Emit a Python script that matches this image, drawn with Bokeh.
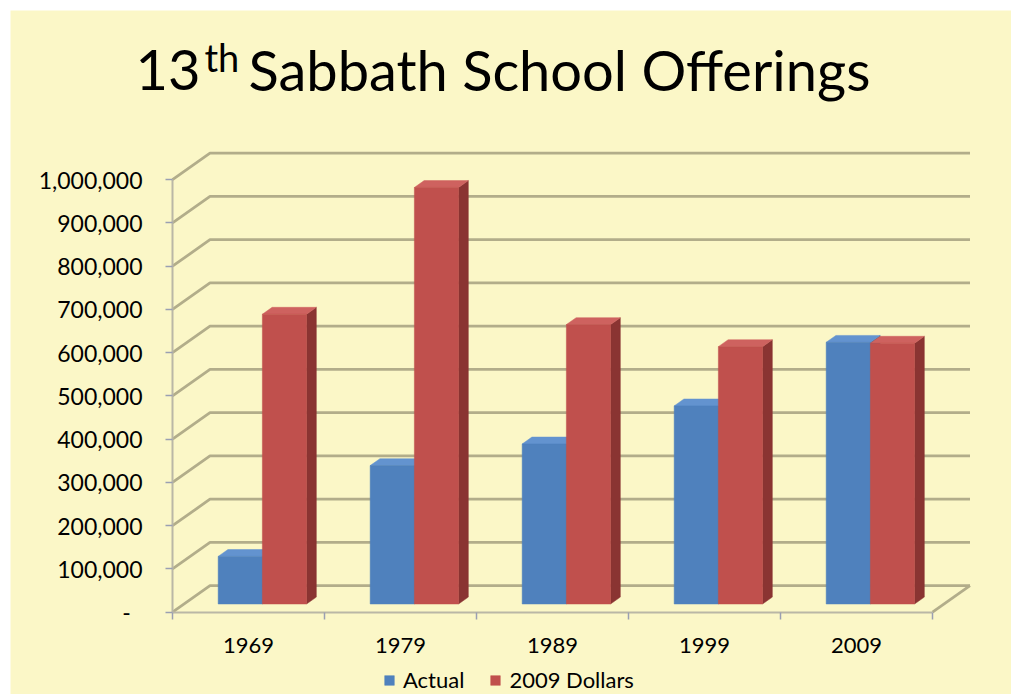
from bokeh.plotting import figure
from bokeh.models import (Range1d, FixedTicker, CustomJSTickFormatter, Legend,
                          LegendItem, Label, LinearAxis)
from bokeh.embed import file_html
from bokeh.resources import INLINE

# ---------------- data ----------------
years = ["1969", "1979", "1989", "1999", "2009"]
series_names = ["Actual", "2009 Dollars"]
actual = [110000, 320000, 370000, 458000, 605000]
dollars_2009 = [670000, 963000, 646000, 595000, 603000]
y_ticks = [0, 100000, 200000, 300000, 400000, 500000, 600000, 700000, 800000, 900000, 1000000]

# ---------------- style ----------------
BG = "#FBF7C7"
FONT = "Lato"
GRID_COL = "#B2AD8A"
AXIS_COL = "#BAB7A6"
TICK_COL = "#9A9FB2"
BLUE = ("#4F81BD", "#3A6393", "#6393CF")    # front, side, top
RED = ("#C0504D", "#8A3432", "#CE625F")

ORIG = 10                                    # page offset of the figure
W_FIG, H_FIG = 1011 - ORIG, 694 - ORIG
X0_PAGE, Y0_PAGE = 172.0, 611.7              # page pixel of the chart origin
PX_X = 152.0                                 # px per category
PX_Y = 432.5 / 1e6                           # px per unit value
DX = 37.5 / PX_X                             # depth shear in x (data units)
DY = 26.5 / PX_Y                             # depth shear in y (data units)
F0, F1 = 0.31, 0.57                          # bar depth span (fraction of depth)
BAR_W = 44.2 / PX_X
BAR_OFF = 0.224
n = len(years)


def X(px):
    return (px - X0_PAGE) / PX_X


def Y(py):
    return (Y0_PAGE - py) / PX_Y


p = figure(width=W_FIG, height=H_FIG,
           x_range=Range1d(X(ORIG), X(ORIG + W_FIG)),
           y_range=Range1d(Y(ORIG + H_FIG), Y(ORIG)),
           x_axis_location=None, y_axis_location=None,
           output_backend="svg", toolbar_location=None,
           min_border_left=0, min_border_right=0, min_border_top=0, min_border_bottom=0,
           background_fill_color=BG, border_fill_color=BG, outline_line_color=None)
p.margin = (ORIG, 0, 0, ORIG)
p.xgrid.visible = False
p.ygrid.visible = False

# ---------- 3D walls (gridlines on back wall, left wall diagonals, floor) ----------
gx, gy = [], []
for v in y_ticks:
    gx.append([0, DX, n + DX])
    gy.append([v, v + DY, v + DY])
gx.append([n, n + DX])
gy.append([0, DY])
p.multi_line(gx, gy, line_color=GRID_COL, line_width=2.8)

# ---------- bars ----------
def bar_geo(vals, s):
    left = [i + BAR_OFF + s * BAR_W + F0 * DX for i in range(n)]
    right = [l + BAR_W for l in left]
    bottom = [F0 * DY] * n
    top = [v + F0 * DY for v in vals]
    ddx, ddy = (F1 - F0) * DX, (F1 - F0) * DY
    side_x = [[r, r + ddx, r + ddx, r] for r in right]
    side_y = [[b, b + ddy, t + ddy, t] for b, t in zip(bottom, top)]
    top_x = [[l, r, r + ddx, l + ddx] for l, r in zip(left, right)]
    top_y = [[t, t, t + ddy, t + ddy] for t in top]
    return left, right, bottom, top, side_x, side_y, top_x, top_y


geos = [bar_geo(actual, 0), bar_geo(dollars_2009, 1)]
cols = [BLUE, RED]
for g, c in zip(geos, cols):
    p.patches(g[4], g[5], fill_color=c[1], line_color=c[1], line_width=0.5)
for g, c in zip(geos, cols):
    p.patches(g[6], g[7], fill_color=c[2], line_color=c[2], line_width=0.5)
fronts = []
for g, c in zip(geos, cols):
    r = p.quad(left=g[0], right=g[1], bottom=g[2], top=g[3],
               fill_color=c[0], line_color=c[0], line_width=0.5)
    fronts.append(r)

# ---------- axes ----------
ya = LinearAxis(fixed_location=0)
ya.ticker = FixedTicker(ticks=y_ticks)
ya.formatter = CustomJSTickFormatter(
    code="return tick == 0 ? '-\u00a0\u00a0' : Math.round(tick).toLocaleString('en-US');")
ya.bounds = (0, y_ticks[-1])
ya.axis_line_color = AXIS_COL
ya.axis_line_width = 2
ya.major_tick_line_color = TICK_COL
ya.major_tick_line_width = 1.5
ya.major_tick_out = 7
ya.major_tick_in = 0
ya.minor_tick_line_color = None
ya.major_label_standoff = 23
ya.major_label_text_font = FONT
ya.major_label_text_font_size = "23px"
ya.major_label_text_color = "#000000"
p.add_layout(ya, "left")

xa = LinearAxis(fixed_location=0)
xa.ticker = FixedTicker(ticks=[i + 0.5 for i in range(n)], minor_ticks=list(range(n + 1)))
xa.formatter = CustomJSTickFormatter(args=dict(labels=years),
                                     code="return labels[Math.floor(tick)];")
xa.bounds = (0, n)
xa.axis_line_color = AXIS_COL
xa.axis_line_width = 2
xa.major_tick_line_color = None
xa.major_tick_out = 0
xa.major_tick_in = 0
xa.minor_tick_line_color = TICK_COL
xa.minor_tick_line_width = 1.5
xa.minor_tick_out = 7
xa.minor_tick_in = 0
xa.major_label_standoff = 19
xa.major_label_text_font = FONT
xa.major_label_text_font_size = "22px"
xa.major_label_text_color = "#000000"
p.add_layout(xa, "below")

# ---------- legend ----------
legend = Legend(items=[LegendItem(label=series_names[0], renderers=[fronts[0]]),
                       LegendItem(label=series_names[1], renderers=[fronts[1]])],
                orientation="horizontal", location=(383 - ORIG, 1),
                background_fill_alpha=0, border_line_alpha=0,
                label_text_font=FONT, label_text_font_size="22px",
                label_text_color="#000000",
                glyph_width=12, glyph_height=12, label_standoff=8,
                spacing=25, padding=0, margin=0)
p.add_layout(legend, "center")

# ---------- title (with superscript) ----------
BIG, SMALL = 56, 38
p.add_layout(Label(x=X(135), y=Y(90 - 0.375 * BIG), text="13", text_font=FONT,
                   text_font_size=f"{BIG}px", text_baseline="alphabetic", text_color="#000000"))
p.add_layout(Label(x=X(204), y=Y(71 - 0.375 * SMALL), text="th", text_font=FONT,
                   text_font_size=f"{SMALL}px", text_baseline="alphabetic", text_color="#000000"))
p.add_layout(Label(x=X(248), y=Y(90 - 0.375 * BIG), text="Sabbath School Offerings", text_font=FONT,
                   text_font_size=f"{BIG}px", text_baseline="alphabetic", text_color="#000000"))

open("out.html", "w").write(file_html(p, INLINE))
